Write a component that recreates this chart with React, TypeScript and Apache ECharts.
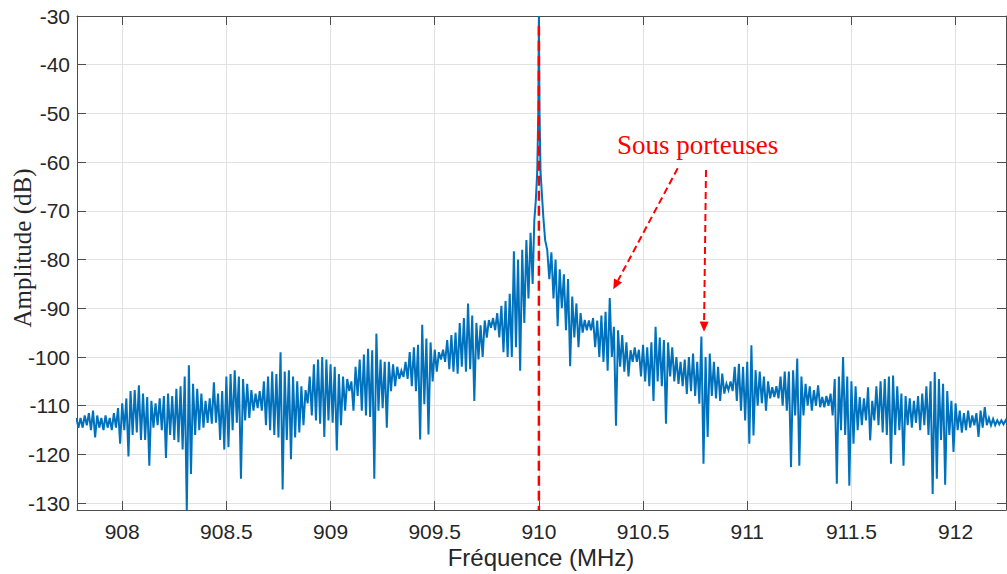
import React, { useEffect, useRef } from "react";
import * as echarts from "echarts";

// Spectrum as (upper, lower) envelope per 0.02 MHz bin
const binStep = 0.02;
const leftStart = 907.78;
const leftUpper = [
  -112.5, -112.5, -112, -111.5, -111, -112, -112.5, -112, -112.5, -111.5,
  -110.5, -109.5, -108.5, -107, -106.8, -105.8, -107.5, -108.2, -109, -109.5,
  -108.5, -108, -107.5, -108, -106.5, -106, -104, -101.7, -105.5, -106.5,
  -107.5, -109, -108.5, -105.2, -107.5, -107, -104, -103.5, -102.7, -104,
  -104.5, -105.5, -106.8, -107.5, -107, -105, -104, -103, -103.5, -99,
  -103, -102.7, -104, -105, -106, -106.8, -104, -101.5, -100.5, -100,
  -100.5, -101.5, -102, -103.5, -104, -104.5, -105, -102, -100.5, -99.5,
  -98.3, -98.6, -95.2, -100.5, -101, -101, -101.5, -102, -102.8, -101,
  -99, -98, -97.5, -93.4, -96.2, -97, -98.5, -99, -98.5, -96.5,
  -95.5, -95, -93, -92, -89, -91.5, -93, -93.5, -92.5, -92.4,
  -92, -91, -89.5, -88.5, -87, -78.3, -80, -78, -76, -74.5,
];
const leftLower = [
  -114.5, -114.5, -114, -115, -116.5, -114.5, -115, -114.5, -115, -114.5,
  -117.8, -115, -120.4, -116, -115.5, -117, -117, -122.3, -114.5, -114,
  -115, -120.7, -116, -117, -117.5, -119, -131.5, -124, -116, -115,
  -114.5, -113.5, -113.7, -113.5, -117, -119, -118.5, -115, -113.5, -125,
  -113, -112.5, -111, -110.5, -111, -114, -115, -116, -116.5, -127.2,
  -117, -121, -116.5, -115.5, -114, -109.5, -112, -113, -113.7, -116.4,
  -113, -113.5, -119.2, -114, -111, -107, -111, -108, -111, -112,
  -112.3, -125, -111, -110.5, -114.5, -107, -106, -104.5, -104.1, -104.5,
  -106, -107, -116.9, -109.7, -115.9, -105, -103, -100.5, -101, -102.5,
  -103, -103.4, -102, -103, -102.5, -109, -100.5, -100, -96, -94,
  -94.5, -96, -99, -100, -100, -98, -102.8, -93, -88, -85,
];
const peakFreq = [909.978, 909.985, 909.992, 909.997, 910.0, 910.003, 910.008, 910.015, 910.022, 910.03];
const peakAmp = [-72, -68, -62, -50, -30, -50, -62, -67, -71.7, -76];
const rightStart = 910.04;
const rightUpper = [
  -78, -78.5, -80, -82, -83, -84, -87.6, -89, -91, -92.4,
  -92.5, -92, -92.5, -91.5, -90.7, -87.9, -93.8, -94.5, -95.5, -97,
  -98.6, -98, -98.5, -97.5, -98, -97, -93.8, -96, -96.5, -97,
  -98, -100, -101, -100.5, -100, -99.3, -101, -95.8, -100, -99.3,
  -101, -102, -103.4, -105.5, -105, -102, -101.4, -102, -101, -97.6,
  -102.7, -103, -104, -105, -106.2, -106, -104, -103, -103, -102.7,
  -100.3, -104, -105.5, -106, -106.8, -105.8, -108.2, -108, -107.5, -104.5,
  -104, -100, -104, -105, -106, -108.2, -108.5, -106.2, -109, -106,
  -105, -104.5, -104, -103.8, -106, -107.5, -108, -108.5, -109, -108,
  -107.5, -106, -105, -103.1, -104.5, -105.5, -107, -109, -109.5, -111,
  -111.5, -111, -112, -111.5, -111, -110.3, -112.5, -112.7, -113, -113,
  -113,
];
const rightLower = [
  -84, -88, -93.7, -90, -94.5, -101.9, -96, -98, -95, -94.5,
  -94.5, -98, -100, -101, -102.8, -100, -114.1, -102, -103, -104,
  -101, -101, -104, -105, -106, -109, -105, -106, -113.7, -104,
  -105, -105.5, -106, -107.6, -107, -108, -109.6, -121.9, -116.4, -108,
  -108.5, -109, -107.5, -106.8, -107, -109, -111, -113, -117.8, -116.1,
  -110, -109.5, -111, -108.5, -108.2, -108.5, -110, -111, -122.6, -112,
  -122.3, -112, -110, -111, -110, -110.3, -110.3, -110, -112, -126,
  -115, -116, -126.4, -117.8, -115, -114, -113, -117.1, -113, -114,
  -115.5, -116, -121.9, -116, -115, -122.3, -114, -114.5, -113.5, -115,
  -114, -116, -128.1, -125, -117, -126.2, -116, -119.5, -115, -115.5,
  -115, -114.5, -114, -116.4, -114.5, -114, -114, -114, -113.8, -113.8,
  -113.8,
];

const xTicks = [908, 908.5, 909, 909.5, 910, 910.5, 911, 911.5, 912];
const yTicks = [-130, -120, -110, -100, -90, -80, -70, -60, -50, -40, -30];
const xMin = 907.783;
const xMax = 912.242;
const yMin = -131.4;
const yMax = -30;
const carrierFreq = 910;
const carrierLine = [
  [carrierFreq, -32],
  [carrierFreq, yMin],
];

function buildSpectrum(): [number, number][] {
  const pts: [number, number][] = [];
  const addBins = (start: number, up: number[], lo: number[]) => {
    up.forEach((hi, i) => {
      const f = start + i * binStep;
      pts.push([Number(f.toFixed(4)), hi]);
      pts.push([Number((f + binStep / 2).toFixed(4)), lo[i]]);
    });
  };
  addBins(leftStart, leftUpper, leftLower);
  peakFreq.forEach((f, i) => pts.push([f, peakAmp[i]]));
  addBins(rightStart, rightUpper, rightLower);
  return pts;
}

const axisColor = "#4d4d4d";
const gridColor = "#e2e2e2";
const tickFont = "'Liberation Sans', Arial, Helvetica, sans-serif";
const serifFont = "'Liberation Serif', 'Times New Roman', serif";

export default function App() {
  const ref = useRef<HTMLDivElement>(null);
  useEffect(() => {
    if (!ref.current) return;
    const chart = echarts.init(ref.current, undefined, { renderer: "svg" });
    const commonX = { type: "value", min: xMin, max: xMax };
    const commonY = { type: "value", min: yMin, max: yMax };
    const option: any = {
      animation: false,
      backgroundColor: "#ffffff",
      grid: { left: 77, top: 16, width: 929, height: 494, containLabel: false },
      xAxis: [
        {
          ...commonX,
          position: "bottom",
          axisLine: { show: true, onZero: false, lineStyle: { color: axisColor, width: 1 } },
          axisTick: { show: true, inside: true, length: 9, customValues: xTicks, lineStyle: { color: axisColor } },
          axisLabel: {
            show: true,
            customValues: xTicks,
            formatter: (v: number) => String(v),
            fontSize: 21,
            color: "#262626",
            fontFamily: tickFont,
            margin: 11,
          },
          splitLine: { show: true, lineStyle: { color: gridColor, width: 1 } },
        },
        {
          ...commonX,
          position: "top",
          axisLine: { show: true, onZero: false, lineStyle: { color: axisColor, width: 1 } },
          axisTick: { show: true, inside: true, length: 9, customValues: xTicks, lineStyle: { color: axisColor } },
          axisLabel: { show: false },
          splitLine: { show: false },
        },
      ],
      yAxis: [
        {
          ...commonY,
          position: "left",
          axisLine: { show: true, onZero: false, lineStyle: { color: axisColor, width: 1 } },
          axisTick: { show: true, inside: true, length: 9, customValues: yTicks, lineStyle: { color: axisColor } },
          axisLabel: {
            show: true,
            customValues: yTicks,
            formatter: (v: number) => String(v),
            fontSize: 21,
            color: "#262626",
            fontFamily: tickFont,
            margin: 7,
          },
          splitLine: { show: true, lineStyle: { color: gridColor, width: 1 } },
        },
        {
          ...commonY,
          position: "right",
          axisLine: { show: true, onZero: false, lineStyle: { color: axisColor, width: 1 } },
          axisTick: { show: true, inside: true, length: 9, customValues: yTicks, lineStyle: { color: axisColor } },
          axisLabel: { show: false },
          splitLine: { show: false },
        },
      ],
      series: [
        {
          type: "line",
          xAxisIndex: 0,
          yAxisIndex: 0,
          data: buildSpectrum(),
          showSymbol: false,
          symbol: "none",
          clip: true,
          lineStyle: { color: "#0072BD", width: 2, join: "miter" },
          z: 2,
        },
        {
          type: "line",
          xAxisIndex: 0,
          yAxisIndex: 0,
          data: carrierLine,
          showSymbol: false,
          symbol: "none",
          lineStyle: { color: "#ff0000", width: 2.5, type: [10, 5] },
          z: 3,
        },
      ],
      graphic: [
        {
          type: "text",
          x: 617,
          y: 158,
          style: {
            text: "Sous porteuses",
            fill: "#ff0000",
            font: `27px ${serifFont}`,
            textAlign: "left",
            textVerticalAlign: "bottom",
          },
          z: 10,
        },
        {
          type: "line",
          shape: { x1: 677.7, y1: 168.3, x2: 618, y2: 280.5 },
          style: { stroke: "#ff0000", lineWidth: 2, lineDash: [7, 4] },
          z: 10,
        },
        {
          type: "polygon",
          shape: { points: [[613.3, 289.3], [622, 282.6], [614, 278.4]] },
          style: { fill: "#ff0000" },
          z: 10,
        },
        {
          type: "line",
          shape: { x1: 706, y1: 170, x2: 704.1, y2: 321.7 },
          style: { stroke: "#ff0000", lineWidth: 2, lineDash: [7, 4] },
          z: 10,
        },
        {
          type: "polygon",
          shape: { points: [[704, 331.7], [708.6, 321.8], [699.6, 321.6]] },
          style: { fill: "#ff0000" },
          z: 10,
        },
        {
          type: "text",
          x: 541,
          y: 557,
          style: {
            text: "Fréquence (MHz)",
            fill: "#262626",
            font: `24px ${tickFont}`,
            textAlign: "center",
            textVerticalAlign: "middle",
          },
        },
        {
          type: "text",
          x: 22,
          y: 248,
          rotation: Math.PI / 2,
          style: {
            text: "Amplitude (dB)",
            fill: "#262626",
            font: `25px ${serifFont}`,
            textAlign: "center",
            textVerticalAlign: "middle",
          },
        },
      ],
    };
    chart.setOption(option);
    return () => chart.dispose();
  }, []);
  return (
    <div
      ref={ref}
      style={{ position: "fixed", left: 0, top: 0, width: 1007, height: 574, background: "#fff" }}
    />
  );
}
